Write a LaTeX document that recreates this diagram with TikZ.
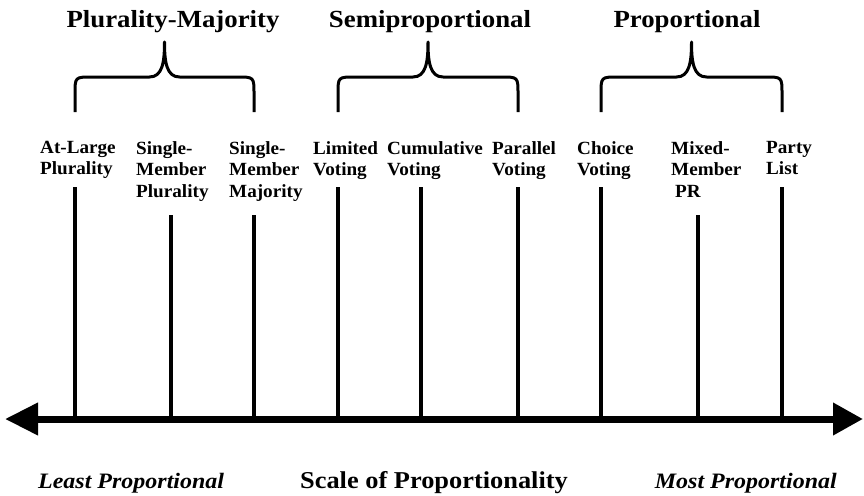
\documentclass[tikz,border=0pt]{standalone}
\usepackage{fontspec}
\setmainfont{Liberation Serif}
\newfontfamily\titlefont[FakeStretch=1.09]{Liberation Serif}
\newfontfamily\labelfont[FakeStretch=1.03]{Liberation Serif}
\newfontfamily\notefont[FakeStretch=1.09]{Liberation Serif}
\usepackage{tikz}
\usetikzlibrary{arrows.meta, positioning, calc}
\tikzset{
  systemlabel/.style={anchor=north west, inner sep=0pt, align=left,
    font=\labelfont\bfseries\fontsize{18.6}{21.5}\selectfont},
  grouptitle/.style={anchor=base, inner sep=0pt,
    font=\titlefont\bfseries\fontsize{24.6}{28}\selectfont},
  endnote/.style={inner sep=0pt,
    font=\notefont\bfseries\itshape\fontsize{22}{25}\selectfont},
  scaletitle/.style={anchor=base, inner sep=0pt,
    font=\notefont\bfseries\fontsize{24.2}{28}\selectfont},
  tickline/.style={line width=4.8pt},
  brace/.style={line width=3pt, line join=round},
  axisline/.style={line width=7pt, {Triangle[length=33pt, width=31pt]}-{Triangle[length=30pt, width=31pt]}}
}
% brace over one family of systems
\newcommand{\votebrace}[2]{%
  \pgfmathsetmacro{\bmid}{(#1+#2)/2}
  \draw[brace] (#1,112) -- (#1,94) .. controls (#1,77) .. (#1+17,77)
    -- (\bmid-15,77) .. controls (\bmid-2,77) and (\bmid,62) .. (\bmid,42)
    .. controls (\bmid,62) and (\bmid+2,77) .. (\bmid+15,77)
    -- (#2-17,77) .. controls (#2,77) .. (#2,94) -- (#2,112);}
\begin{document}
\begin{tikzpicture}[x=1pt, y=-1pt]
  \useasboundingbox (0,0) rectangle (864,495);

  % families
  \node[grouptitle] (plmaj) at (173,28) {Plurality-Majority};
  \node[grouptitle] (semi)  at (430,28) {Semiproportional};
  \node[grouptitle] (prop)  at (687,28) {Proportional};
  \votebrace{75}{254}
  \votebrace{338}{518}
  \votebrace{601}{782}

  % systems
  \node[systemlabel] (atlarge)  at (40,141)  {At-Large\\Plurality};
  \node[systemlabel] (smplur)   at (136,141) {Single-\\Member\\Plurality};
  \node[systemlabel] (smmaj)    at (229,141) {Single-\\Member\\Majority};
  \node[systemlabel] (limited)  at (313,141) {Limited\\Voting};
  \node[systemlabel] (cumul)    at (387,141) {Cumulative\\Voting};
  \node[systemlabel] (parallel) at (492,141) {Parallel\\Voting};
  \node[systemlabel] (choice)   at (577,141) {Choice\\Voting};
  \node[systemlabel] (mixed)    at (671,141) {Mixed-\\Member\\\hspace*{4pt}PR};
  \node[systemlabel] (party)    at (766,141) {Party\\List};

  % scale
  \coordinate (axis left)  at (5,419);
  \coordinate (axis right) at (863,419);
  \coordinate (atlarge top)  at (75,187);
  \coordinate (smplur top)   at (171,215);
  \coordinate (smmaj top)    at (254,215);
  \coordinate (limited top)  at (338,187);
  \coordinate (cumul top)    at (421,187);
  \coordinate (parallel top) at (518,187);
  \coordinate (choice top)   at (601,187);
  \coordinate (mixed top)    at (698,215);
  \coordinate (party top)    at (782,187);

  \draw[tickline] (atlarge top)  -- (atlarge top |- axis left);
  \draw[tickline] (smplur top)   -- (smplur top |- axis left);
  \draw[tickline] (smmaj top)    -- (smmaj top |- axis left);
  \draw[tickline] (limited top)  -- (limited top |- axis left);
  \draw[tickline] (cumul top)    -- (cumul top |- axis left);
  \draw[tickline] (parallel top) -- (parallel top |- axis left);
  \draw[tickline] (choice top)   -- (choice top |- axis left);
  \draw[tickline] (mixed top)    -- (mixed top |- axis left);
  \draw[tickline] (party top)    -- (party top |- axis left);
  \draw[axisline] (axis left) -- (axis right);

  \node[endnote, anchor=base west] (least) at (38,488) {Least Proportional};
  \node[scaletitle] (scale) at (434,488) {Scale of Proportionality};
  \node[endnote, anchor=base east] (most) at (837,488) {Most Proportional};
\end{tikzpicture}
\end{document}
